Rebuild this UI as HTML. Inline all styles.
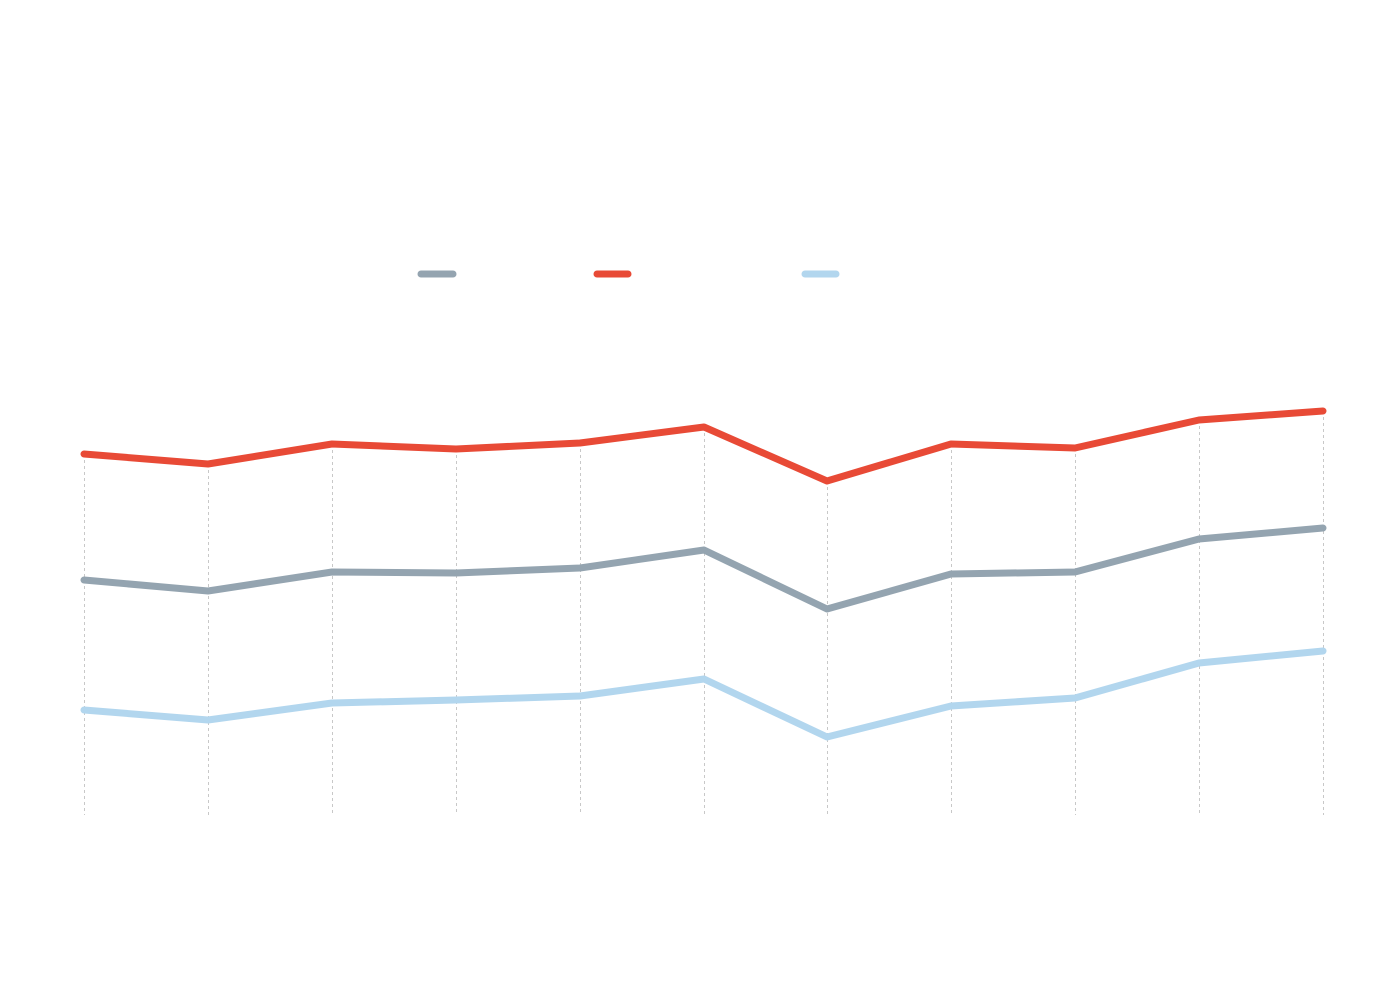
<!DOCTYPE html>
<html><head><style>html,body{margin:0;padding:0;background:#fff}</style></head><body>
<svg width="1400" height="976" viewBox="0 0 1400 976" xmlns="http://www.w3.org/2000/svg">
<g stroke="#c8c8c8" stroke-width="1" stroke-dasharray="3,3">
<line x1="84.5" y1="454" x2="84.5" y2="815"/>
<line x1="208.5" y1="464" x2="208.5" y2="815"/>
<line x1="332.5" y1="444" x2="332.5" y2="815"/>
<line x1="456.5" y1="449" x2="456.5" y2="815"/>
<line x1="580.5" y1="443" x2="580.5" y2="815"/>
<line x1="704.5" y1="427" x2="704.5" y2="815"/>
<line x1="827.5" y1="481" x2="827.5" y2="815"/>
<line x1="951.5" y1="444" x2="951.5" y2="815"/>
<line x1="1075.5" y1="448" x2="1075.5" y2="815"/>
<line x1="1199.5" y1="420" x2="1199.5" y2="815"/>
<line x1="1323.5" y1="411" x2="1323.5" y2="815"/>
</g>
<g fill="none" stroke-width="7" stroke-linecap="round" stroke-linejoin="round">
<polyline stroke="#e84a36" points="84,454 208,464 332,444 456,449 580,443 704,427 827,481 951,444 1075,448 1199,420 1323,411"/>
<polyline stroke="#94a4b0" points="84,580 208,591 332,572 456,573 580,568 704,550 827,609 951,574 1075,572 1199,539 1323,528"/>
<polyline stroke="#b2d6ee" points="84,710 208,720 332,703 456,700 580,696 704,679 827,737 951,706 1075,698 1199,663 1323,651"/>
<line stroke="#94a4b0" x1="421" y1="274" x2="453" y2="274"/>
<line stroke="#e84a36" x1="597" y1="274" x2="628" y2="274"/>
<line stroke="#b2d6ee" x1="805" y1="274" x2="836" y2="274"/>
</g>
</svg>
</body></html>
